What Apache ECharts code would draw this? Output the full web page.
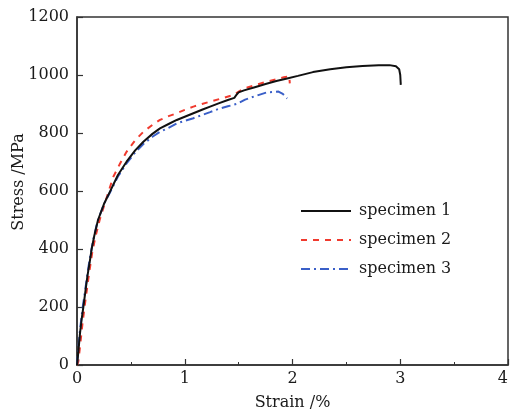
<!DOCTYPE html>
<html>
<head>
<meta charset="utf-8">
<script src="https://cdn.jsdelivr.net/npm/echarts@6/dist/echarts.min.js"></script>
<style>html,body{margin:0;padding:0;background:#fff}#c{width:510px;height:412px}</style>
</head>
<body>
<div id="c"></div>
<script>
const seriesNames = ['specimen 1', 'specimen 2', 'specimen 3'];
const xTicks = [0, 1, 2, 3, 4];
const yTicks = [0, 200, 400, 600, 800, 1000, 1200];

const strain1 = [0, 0.01, 0.028, 0.044, 0.059, 0.075, 0.096, 0.12, 0.136, 0.16, 0.195, 0.25, 0.306, 0.38, 0.46, 0.54, 0.616, 0.70, 0.77, 0.85, 0.926, 1.0, 1.08, 1.16, 1.235, 1.32, 1.40, 1.46, 1.48, 1.50, 1.55, 1.65, 1.75, 1.85, 1.95, 2.05, 2.19, 2.35, 2.50, 2.65, 2.80, 2.90, 2.96, 2.99, 3.0, 3.005];
const stress1 = [0, 35, 110, 160, 200, 245, 305, 360, 400, 445, 500, 555, 598, 655, 701, 740, 770, 797, 816, 831, 845, 856, 868, 880, 891, 903, 914, 921, 932, 940, 947, 958, 969, 979, 988, 997, 1010, 1020, 1027, 1031, 1034, 1034, 1030, 1020, 1000, 966];

const strain2 = [0, 0.012, 0.03, 0.05, 0.07, 0.09, 0.11, 0.14, 0.17, 0.21, 0.26, 0.337, 0.40, 0.46, 0.54, 0.616, 0.70, 0.77, 0.85, 0.926, 1.0, 1.08, 1.16, 1.235, 1.33, 1.45, 1.54, 1.65, 1.75, 1.85, 1.92, 1.97, 1.975];
const stress2 = [0, 11, 70, 140, 200, 255, 310, 385, 440, 500, 560, 649, 695, 735, 775, 804, 828, 845, 858, 868, 880, 891, 900, 908, 918, 931, 952, 965, 976, 985, 992, 996, 971];

const strain3 = [0, 0.01, 0.025, 0.04, 0.055, 0.075, 0.095, 0.12, 0.15, 0.19, 0.25, 0.306, 0.38, 0.46, 0.54, 0.616, 0.70, 0.77, 0.85, 0.926, 1.0, 1.08, 1.16, 1.235, 1.32, 1.40, 1.48, 1.56, 1.66, 1.76, 1.87, 1.91, 1.95];
const stress3 = [0, 45, 110, 160, 205, 255, 310, 370, 430, 495, 555, 595, 650, 695, 733, 762, 787, 804, 818, 833, 842, 851, 862, 872, 884, 892, 900, 915, 928, 940, 943, 935, 919];

const zip = (a, b) => a.map((v, i) => [v, b[i]]);
const FONT = 'DejaVu Serif';
const FS = 16;
const TXT = '#1a1a1a';
const AX = '#333';

const chart = echarts.init(document.getElementById('c'), null, {renderer: 'canvas'});
chart.setOption({
  animation: false,
  grid: {left: 77, right: 2, top: 17, bottom: 47, outerBoundsMode: 'none', containLabel: false,
         show: true, borderColor: AX, borderWidth: 1.5, backgroundColor: 'transparent'},
  legend: {
    orient: 'vertical', left: 295, top: 198, itemWidth: 50, itemHeight: 14, itemGap: 13,
    data: seriesNames,
    itemStyle: {color: 'rgba(0,0,0,0)', borderColor: 'rgba(0,0,0,0)', borderWidth: 0},
    textStyle: {fontFamily: FONT, fontSize: FS, color: TXT, padding: [0, 0, 0, 3]}
  },
  xAxis: {
    type: 'value', min: xTicks[0], max: xTicks[xTicks.length - 1], interval: 1,
    name: 'Strain /%', nameLocation: 'middle', nameGap: 30, nameMoveOverlap: false,
    nameTextStyle: {fontFamily: FONT, fontSize: FS, color: TXT},
    axisLine: {lineStyle: {color: AX, width: 1.5}},
    axisTick: {inside: true, length: 6, lineStyle: {color: AX, width: 1.2}},
    minorTick: {show: true, splitNumber: 2, length: 3, lineStyle: {color: AX, width: 1}},
    splitLine: {show: false},
    axisLabel: {fontFamily: FONT, fontSize: FS, color: TXT, margin: 6, alignMaxLabel: 'right', formatter: v => String(v)}
  },
  yAxis: {
    type: 'value', min: yTicks[0], max: yTicks[yTicks.length - 1], interval: 200,
    name: 'Stress /MPa', nameLocation: 'middle', nameGap: 50, nameRotate: 90, nameMoveOverlap: false,
    nameTextStyle: {fontFamily: FONT, fontSize: FS, color: TXT, padding: [0, 0, 0, 18]},
    axisLine: {lineStyle: {color: AX, width: 1.5}},
    axisTick: {inside: true, length: 6, lineStyle: {color: AX, width: 1.2}},
    splitLine: {show: false},
    axisLabel: {fontFamily: FONT, fontSize: FS, color: TXT, margin: 8, formatter: v => String(v)}
  },
  series: [
    {name: seriesNames[0], type: 'line', symbol: 'none', data: zip(strain1, stress1), z: 3,
     lineStyle: {color: '#111', width: 2}, itemStyle: {color: '#111'}},
    {name: seriesNames[1], type: 'line', symbol: 'none', data: zip(strain2, stress2), z: 2,
     lineStyle: {color: '#f03a2e', width: 2, type: [6, 6]}, itemStyle: {color: '#f03a2e'}},
    {name: seriesNames[2], type: 'line', symbol: 'none', data: zip(strain3, stress3), z: 2,
     lineStyle: {color: '#3a5fc8', width: 2, type: [9, 4, 2, 4]}, itemStyle: {color: '#3a5fc8'}}
  ]
});
</script>
</body>
</html>
